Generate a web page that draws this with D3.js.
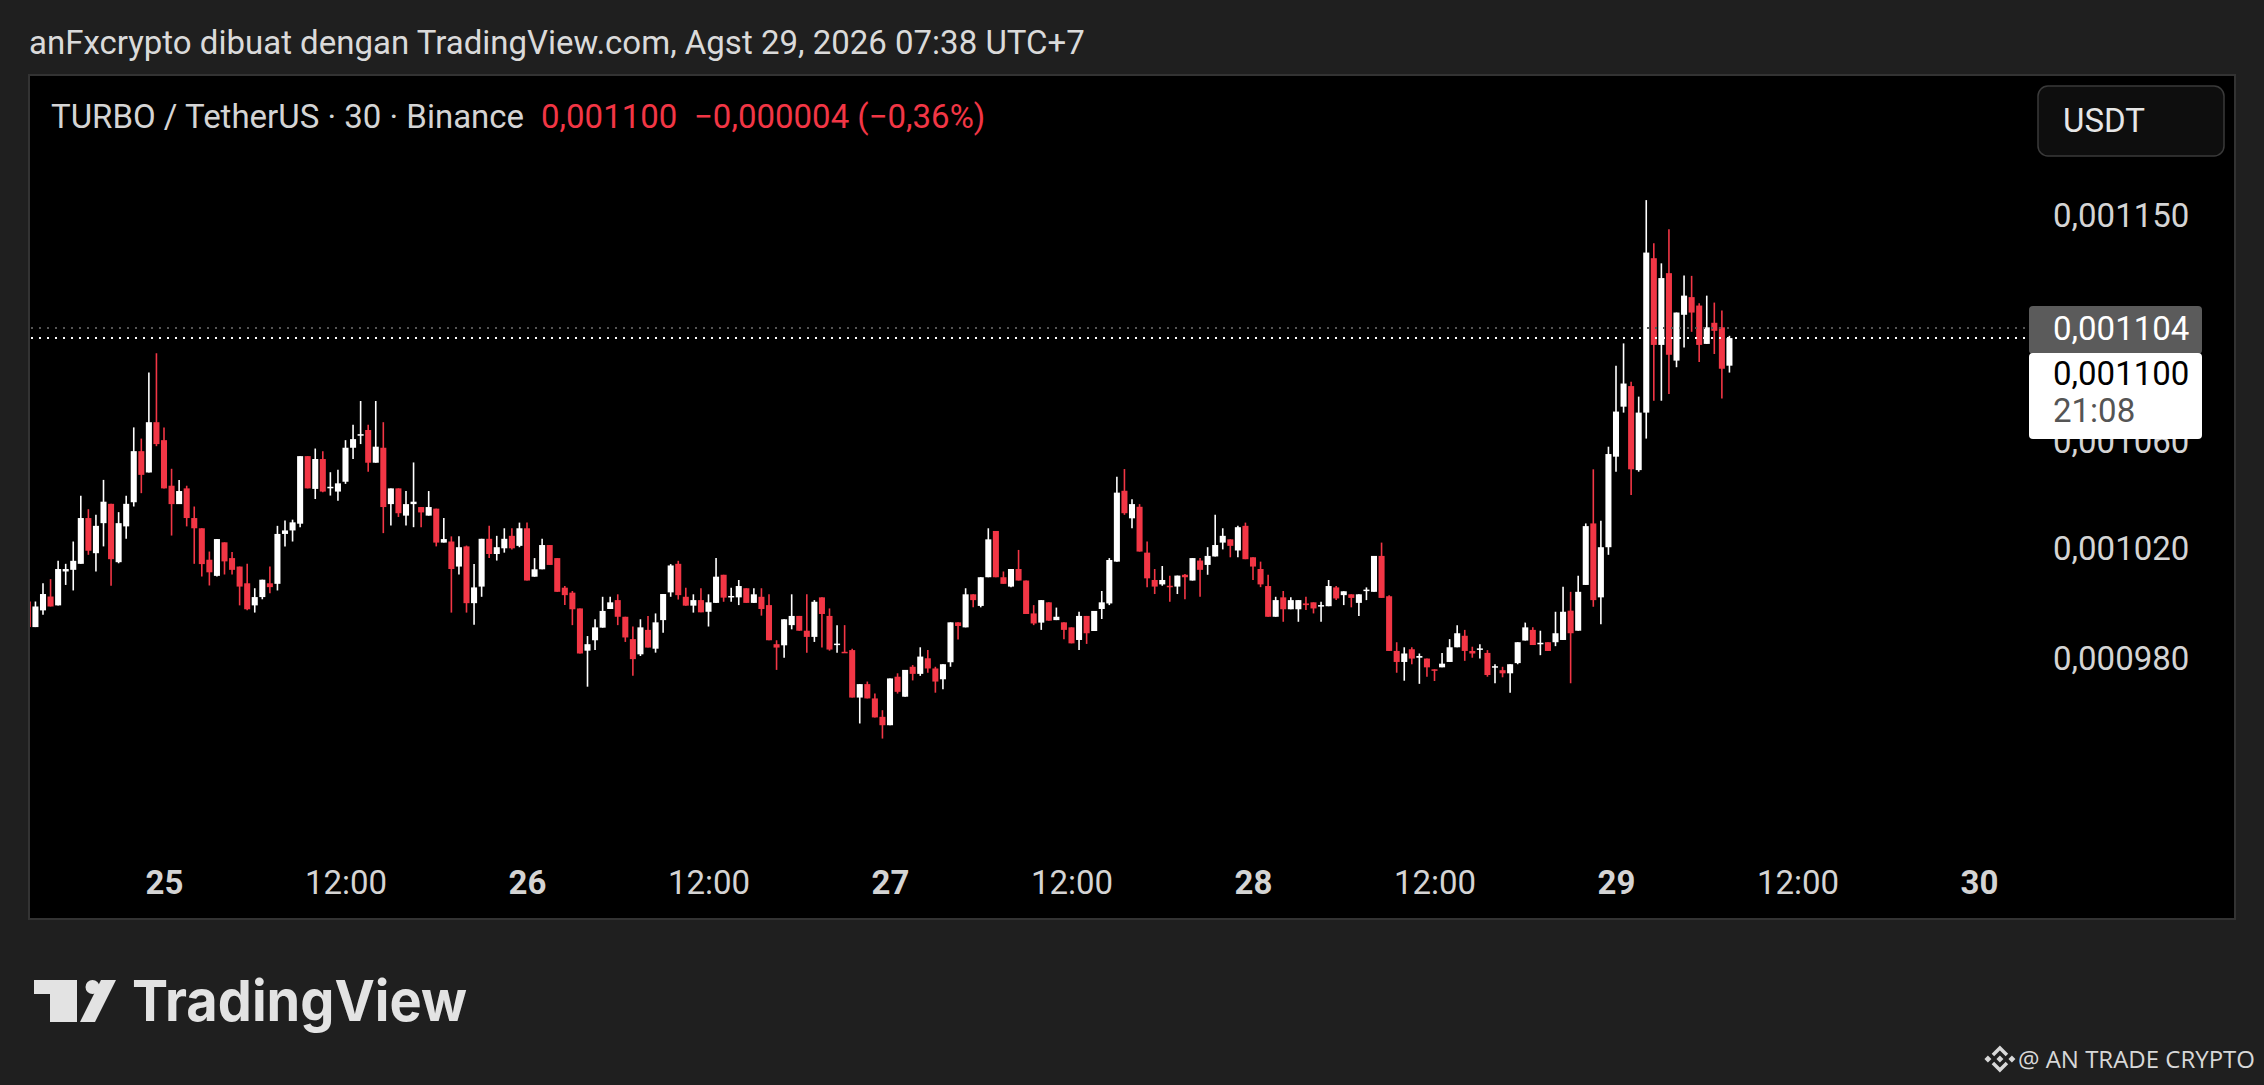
<!DOCTYPE html>
<html><head><meta charset="utf-8">
<script src="https://cdn.jsdelivr.net/npm/d3@7"></script>
<style>
html,body{margin:0;padding:0;background:#1f1f1f;overflow:hidden}
svg{display:block}
</style></head><body>
<svg id="c" width="2264" height="1085"></svg>
<script>
// ---- data (prices in units of 1e-6 USDT) ----
const UNIT = 1e-6;
const startTime = "2026-08-24T15:00:00Z";   // first 30-minute candle
const intervalMinutes = 30;
const opens = [
1000.2,991.0,997.0,1002.0,998.8,1011.1,1011.7,1013.9,1030.8,1017.8,
1028.9,1036.1,1014.5,1027.7,1036.7,1056.0,1047.9,1067.1,1060.2,1042.9,
1036.0,1041.9,1030.8,1027.0,1015.4,1009.5,1021.8,1016.0,1012.9,1006.8,
998.8,1001.8,1006.8,1006.6,1024.9,1026.2,1028.7,1054.1,1041.7,1053.0,
1042.2,1040.7,1044.4,1057.3,1061.9,1064.1,1051.6,1057.3,1036.0,1041.9,
1031.7,1036.0,1034.9,1031.7,1034.3,1021.7,1022.1,1012.9,1020.3,999.6,
1005.6,1023.1,1017.5,1019.6,1024.2,1020.5,1027.0,1009.2,1011.9,1020.8,
1016.0,1005.2,1003.4,997.7,982.6,986.3,990.8,997.5,1000.7,994.7,
986.7,981.3,990.0,983.3,993.5,1003.5,1013.9,1001.9,998.7,1000.7,
996.5,999.7,1009.9,1001.7,1001.7,1005.0,999.7,1001.9,998.9,984.9,
984.5,991.7,995.0,989.7,987.5,1001.7,995.0,984.9,982.2,982.8,
966.1,970.8,965.8,959.4,956.5,973.4,966.4,976.9,974.4,979.9,
976.3,972.5,978.5,992.7,990.9,1002.8,998.6,1009.0,1026.0,1009.0,
1005.6,1012.0,1007.8,995.9,992.6,999.9,993.5,992.7,990.9,986.4,
995.0,989.6,997.5,999.5,1014.7,1041.0,1030.7,1035.0,1018.0,1008.0,
1006.4,1005.9,1005.6,1009.9,1007.8,1015.1,1013.5,1016.6,1021.7,1022.9,
1018.8,1027.9,1016.3,1012.0,1005.8,994.7,1001.7,997.4,997.4,999.5,
999.9,998.4,998.5,1005.3,1002.5,1002.8,999.7,1004.0,1003.7,1016.8,
1002.1,982.5,978.6,983.1,980.1,979.8,976.0,976.7,978.6,983.8,
987.9,982.5,983.1,981.8,976.9,975.7,974.6,978.2,986.2,990.0,
985.0,985.6,985.6,986.4,996.9,989.7,1006.2,1028.8,1001.7,1020.0,
1053.9,1073.1,1081.1,1048.8,1070.8,1132.2,1097.3,1126.1,1091.1,1109.3,
1116.4,1113.0,1097.7,1106.1,1104.3,1089.1];
const highs = [
1000.2,1000.2,1006.8,1008.3,1015.0,1013.9,1022.1,1039.1,1034.1,1032.0,
1045.1,1036.1,1033.0,1039.1,1065.1,1060.8,1086.4,1094.0,1065.1,1049.3,
1045.1,1042.9,1035.1,1027.0,1018.4,1023.0,1021.8,1018.2,1012.9,1013.9,
1005.0,1008.1,1012.9,1027.9,1029.9,1030.2,1054.1,1054.1,1057.0,1056.0,
1048.0,1048.9,1060.2,1066.1,1075.3,1066.1,1075.3,1067.1,1041.9,1041.9,
1040.9,1051.7,1034.9,1040.9,1034.3,1030.8,1024.0,1024.0,1020.6,1013.8,
1023.1,1027.9,1024.2,1027.0,1027.0,1029.1,1029.1,1016.0,1023.1,1020.8,
1016.0,1005.8,1004.0,997.7,987.8,993.8,1001.9,1001.9,1002.8,994.7,
991.2,993.8,995.0,995.9,1002.9,1013.8,1015.0,1005.2,1002.8,1005.0,
1002.8,1016.0,1009.9,1005.2,1008.0,1005.0,1005.0,1005.0,1002.8,986.3,
993.8,1002.8,995.0,1002.8,1000.7,1001.7,997.7,991.7,991.7,983.3,
970.8,971.7,967.5,961.7,972.8,974.6,975.8,977.5,983.8,982.8,
976.9,977.8,992.7,992.7,1005.0,1002.8,1009.0,1027.0,1026.0,1011.1,
1012.0,1019.0,1007.8,998.9,1000.7,999.9,998.0,992.7,990.9,996.5,
995.0,996.8,1004.0,1016.0,1046.3,1049.2,1037.8,1036.0,1022.1,1012.0,
1013.1,1009.5,1009.6,1010.2,1016.0,1016.0,1020.0,1032.0,1027.0,1022.9,
1027.9,1029.1,1016.3,1014.7,1009.9,1001.9,1004.0,1001.7,1000.7,1001.9,
999.9,1000.1,1008.0,1005.8,1003.9,1002.8,1002.8,1005.3,1016.8,1021.7,
1002.5,985.6,983.8,983.8,981.6,979.8,976.0,981.8,986.7,991.7,
990.0,984.0,984.9,982.8,977.8,976.9,977.8,985.6,992.6,990.9,
989.7,985.6,996.5,1005.5,1003.7,1009.5,1028.8,1049.1,1029.8,1057.7,
1089.1,1097.9,1082.8,1077.0,1156.2,1138.3,1130.1,1144.1,1110.2,1125.1,
1125.0,1113.9,1117.0,1114.2,1111.0,1100.9];
const lows = [
991.0,991.0,995.4,998.4,998.8,1006.2,1004.2,1013.9,1017.2,1011.1,
1020.3,1005.9,1014.1,1023.1,1035.1,1040.1,1047.9,1057.9,1041.9,1024.3,
1036.0,1027.7,1013.9,1009.3,1006.0,1009.3,1010.0,1010.0,998.8,997.0,
996.2,1001.0,1003.2,1004.2,1020.3,1022.1,1027.4,1041.9,1037.9,1040.4,
1039.2,1037.3,1043.6,1053.0,1058.7,1048.2,1051.6,1025.2,1028.0,1031.2,
1028.0,1027.4,1027.4,1031.7,1020.3,1021.7,996.2,1010.0,996.2,991.8,
1001.9,1016.0,1015.1,1018.0,1019.2,1020.0,1007.8,1009.2,1011.9,1013.5,
1003.7,998.9,991.7,981.6,969.9,982.8,990.8,997.5,991.7,985.7,
973.7,980.7,983.7,981.9,989.0,1001.9,1000.9,998.7,996.2,996.3,
991.2,999.7,1000.1,1000.1,998.9,999.7,999.7,995.1,986.3,975.8,
980.1,990.2,989.7,981.9,985.7,983.7,982.6,981.9,981.9,966.1,
957.1,965.8,959.2,951.9,956.5,967.5,966.4,972.1,973.7,974.8,
967.8,969.0,976.9,986.6,990.9,998.1,998.1,1009.0,1009.0,1006.6,
1005.4,1007.8,995.7,991.7,990.0,993.3,993.5,986.7,985.2,982.8,
985.0,989.6,993.9,998.9,1014.7,1032.0,1027.0,1018.4,1005.4,1002.9,
1005.9,1000.1,1002.9,1001.0,1007.8,1001.9,1009.9,1016.6,1019.2,1016.3,
1016.3,1015.6,1008.0,1005.4,994.7,994.7,992.9,997.4,992.9,997.1,
995.9,992.9,998.5,1000.7,998.9,998.1,995.0,1000.7,1003.7,1001.5,
982.5,974.8,972.0,977.8,970.9,973.4,971.9,976.7,978.6,983.8,
979.0,980.1,979.8,973.4,971.1,973.2,967.8,977.8,986.2,984.6,
981.0,982.5,984.2,986.4,971.1,989.7,1006.2,998.3,992.0,1017.2,
1048.2,1070.8,1039.4,1048.2,1060.8,1075.4,1075.4,1078.0,1088.5,1096.3,
1102.5,1090.5,1097.7,1093.7,1076.3,1086.4];
const closes = [
991.0,998.4,1002.9,998.4,1012.0,1012.0,1015.0,1030.8,1018.7,1027.9,
1036.9,1015.6,1028.9,1036.1,1056.0,1047.0,1067.1,1058.7,1041.9,1036.0,
1040.9,1030.8,1027.0,1013.8,1010.8,1023.0,1014.8,1011.7,1005.6,997.4,
1001.8,1008.1,1005.4,1024.9,1026.2,1029.2,1054.1,1041.9,1053.0,1040.7,
1042.5,1043.8,1057.3,1060.6,1062.5,1051.6,1057.7,1034.9,1041.9,1032.6,
1036.0,1036.9,1032.9,1034.9,1021.7,1023.0,1012.0,1020.0,999.6,1005.3,
1023.1,1017.5,1020.0,1023.1,1019.6,1027.0,1007.8,1011.9,1020.8,1013.5,
1003.7,1002.5,997.4,981.6,984.9,990.9,996.8,999.9,994.7,987.3,
979.6,990.9,983.7,992.7,1002.9,1013.3,1002.5,998.7,1000.7,996.3,
999.9,1009.2,1001.6,1002.2,1005.8,999.7,1002.8,997.5,986.3,983.7,
993.8,995.0,989.7,987.5,1000.1,995.7,983.0,985.1,981.9,966.1,
970.8,965.8,959.2,956.5,972.8,968.1,975.8,974.4,980.5,976.3,
971.7,977.8,992.7,991.4,1002.8,1000.7,1009.0,1022.9,1009.0,1006.6,
1012.0,1007.8,995.7,992.3,1000.7,993.3,994.7,990.0,985.2,995.0,
988.8,996.8,999.9,1015.3,1040.3,1032.6,1036.0,1018.4,1008.6,1005.6,
1008.0,1005.4,1009.6,1009.0,1016.0,1011.7,1016.8,1020.8,1024.2,1020.5,
1027.4,1015.6,1012.9,1006.4,994.7,1000.7,997.4,1000.7,1000.7,998.9,
997.7,998.9,1005.8,1001.3,1003.9,1001.5,1002.8,1004.5,1016.8,1001.5,
982.5,978.6,981.6,979.8,980.7,976.7,975.5,978.0,983.8,988.8,
982.5,981.6,983.4,974.0,977.1,974.6,977.8,985.6,990.9,984.6,
985.4,982.5,988.8,996.5,988.8,1003.7,1027.8,1000.7,1020.0,1054.9,
1071.2,1082.1,1049.1,1070.8,1134.5,1097.3,1124.1,1093.4,1110.2,1117.0,
1110.2,1097.3,1104.3,1102.9,1087.9,1100.0];

const priceTicks = [1150, 1060, 1020, 980];          // 1100 tick is hidden under the price labels
const priceTickLabels = ["0,001150","0,001060","0,001020","0,000980"];
const timeTicks = ["2026-08-25T00:00Z","2026-08-25T12:00Z","2026-08-26T00:00Z","2026-08-26T12:00Z",
  "2026-08-27T00:00Z","2026-08-27T12:00Z","2026-08-28T00:00Z","2026-08-28T12:00Z",
  "2026-08-29T00:00Z","2026-08-29T12:00Z","2026-08-30T00:00Z"];
const timeTickLabels = ["25","12:00","26","12:00","27","12:00","28","12:00","29","12:00","30"];
const prevClose = 1104;     // grey price line
const lastPrice = 1100;     // current price line
const prevCloseText = "0,001104";
const countdown = "21:08";
const headerText = "anFxcrypto dibuat dengan TradingView.com, Agst 29, 2026 07:38 UTC+7";
const symbolText = "TURBO / TetherUS · 30 · Binance";
const lastText = "0,001100";
const changeText = "−0,000004 (−0,36%)";

// ---- layout ----
const svg = d3.select("#c");
const plot = {x0: 29, x1: 2235, y0: 75, y1: 919};
const UP = "#ffffff", DOWN = "#f23645", TXT = "#d4d4d4";
const FONT = "Roboto, 'Noto Sans', sans-serif";
const FS = 33;

const t0 = new Date(startTime).getTime();
const candles = opens.map((o,i)=>({t:new Date(t0 + i*intervalMinutes*60000), o:o*UNIT, h:highs[i]*UNIT, l:lows[i]*UNIT, c:closes[i]*UNIT}));

const x = d3.scaleUtc().domain([new Date("2026-08-25T00:00Z"), new Date("2026-08-30T00:00Z")]).range([164, 1979]);
const y = d3.scaleLog().domain([980*UNIT, 1150*UNIT]).range([658, 215]);

// header
svg.append("text").attr("x", 29).attr("y", 54).attr("fill", "#dadada")
  .attr("font-family", FONT).attr("font-size", FS).text(headerText);

// plot frame
svg.append("rect").attr("x", plot.x0).attr("y", plot.y0).attr("width", plot.x1-plot.x0).attr("height", plot.y1-plot.y0)
  .attr("fill", "#000").attr("stroke", "#333").attr("stroke-width", 2);

svg.append("defs").append("clipPath").attr("id","clip").append("rect")
  .attr("x", plot.x0+1).attr("y", plot.y0+1).attr("width", 2000).attr("height", plot.y1-plot.y0-2);

const gC = svg.append("g").attr("clip-path","url(#clip)");
const step = x(new Date(t0 + 30*60000)) - x(new Date(t0));
const bw = step*0.8;
const cg = gC.selectAll("g.cd").data(candles).join("g").attr("class","cd");
cg.append("line")
  .attr("x1", d=>x(d.t)).attr("x2", d=>x(d.t))
  .attr("y1", d=>y(d.h)).attr("y2", d=>y(d.l))
  .attr("stroke", d=>d.c>=d.o?UP:DOWN).attr("stroke-width", 1.6);
cg.append("rect")
  .attr("x", d=>x(d.t)-bw/2).attr("width", bw)
  .attr("y", d=>y(Math.max(d.o,d.c)))
  .attr("height", d=>Math.max(1.5, Math.abs(y(d.o)-y(d.c))))
  .attr("fill", d=>d.c>=d.o?UP:DOWN);

// price lines
svg.append("line").attr("x1", plot.x0+2).attr("x2", 2029).attr("y1", y(prevClose*UNIT)).attr("y2", y(prevClose*UNIT))
  .attr("stroke", "#555").attr("stroke-width", 2).attr("stroke-dasharray", "2 6");
svg.append("line").attr("x1", plot.x0+2).attr("x2", 2029).attr("y1", y(lastPrice*UNIT)).attr("y2", y(lastPrice*UNIT))
  .attr("stroke", "#ffffff").attr("stroke-width", 2).attr("stroke-dasharray", "2 6");

// legend
const lg = svg.append("text").attr("x", 51).attr("y", 128).attr("font-family", FONT).attr("font-size", FS);
lg.append("tspan").attr("fill", TXT).text(symbolText);
lg.append("tspan").attr("x", 541).attr("fill", DOWN).text(lastText);
lg.append("tspan").attr("x", 694).attr("fill", DOWN).text(changeText);

// USDT button
svg.append("rect").attr("x", 2038).attr("y", 86).attr("width", 186).attr("height", 70).attr("rx", 10)
  .attr("fill", "#0e0e0e").attr("stroke", "#3a3a3a").attr("stroke-width", 1.5);
svg.append("text").attr("x", 2063).attr("y", 132).attr("font-family", FONT).attr("font-size", FS)
  .attr("fill", "#e6e6e6").text("USDT");

// price axis
const yAxis = svg.append("g").attr("transform", "translate(2053,0)")
  .call(d3.axisRight(y).tickValues(priceTicks.map(v=>v*UNIT)).tickSize(0).tickPadding(0)
    .tickFormat((d,i)=>priceTickLabels[i]));
yAxis.select(".domain").remove();
yAxis.selectAll("text").attr("font-family", FONT).attr("font-size", FS).attr("fill", TXT).attr("dy", "0.36em");

// time axis
const xAxis = svg.append("g").attr("transform", "translate(0,882)")
  .call(d3.axisBottom(x).tickValues(timeTicks.map(s=>new Date(s))).tickSize(0).tickPadding(0)
    .tickFormat((d,i)=>timeTickLabels[i]));
xAxis.select(".domain").remove();
xAxis.selectAll("text").attr("font-family", FONT).attr("font-size", FS).attr("fill", TXT).attr("dy", "0.36em")
  .attr("font-weight", (d,i)=>timeTickLabels[i].includes(":")?400:700);

// price labels
const yp = y(prevClose*UNIT);
svg.append("rect").attr("x", 2029).attr("y", yp-22).attr("width", 173).attr("height", 48).attr("rx", 4).attr("fill", "#5b5b5b");
svg.append("text").attr("x", 2053).attr("y", yp+12).attr("font-family", FONT).attr("font-size", FS).attr("fill", "#fff").text(prevCloseText);
svg.append("rect").attr("x", 2029).attr("y", yp+25).attr("width", 173).attr("height", 86).attr("rx", 4).attr("fill", "#fff");
svg.append("text").attr("x", 2053).attr("y", yp+57).attr("font-family", FONT).attr("font-size", FS).attr("fill", "#000").text(lastText);
svg.append("text").attr("x", 2053).attr("y", yp+94).attr("font-family", FONT).attr("font-size", FS).attr("fill", "#555").text(countdown);

// TradingView logo
const logo = svg.append("g").attr("fill", "#e3e3e3");
logo.append("path").attr("d", "M34,980 H77 V1022 H50 V994 H34 Z");
logo.append("circle").attr("cx", 92.5).attr("cy", 987).attr("r", 7);
logo.append("path").attr("d", "M101,980 H116 L95,1022 H80 Z");
logo.append("text").attr("x", 132).attr("y", 1021).attr("font-family", "Inter, 'Open Sans', sans-serif")
  .attr("font-weight", 700).attr("font-size", 57).attr("textLength", 335).attr("lengthAdjust","spacingAndGlyphs").text("TradingView");

// watermark
const wmText = svg.append("text").attr("x", 2255).attr("y", 1068).attr("text-anchor", "end")
  .attr("font-family", "'Open Sans', 'Noto Sans', sans-serif").attr("font-size", 24).attr("fill", "#d8d8d8")
  .text("@ AN TRADE CRYPTO");
const wmLeft = 2255 - wmText.node().getComputedTextLength();
const wm = svg.append("g").attr("fill", "#d8d8d8").attr("stroke", "#d8d8d8");
const cx0 = wmLeft - 18, cy0 = 1059;
wm.append("path").attr("fill","none").attr("stroke-width",3.5).attr("d", `M${cx0-7},${cy0-4} L${cx0},${cy0-11} L${cx0+7},${cy0-4}`);
wm.append("path").attr("fill","none").attr("stroke-width",3.5).attr("d", `M${cx0-7},${cy0+4} L${cx0},${cy0+11} L${cx0+7},${cy0+4}`);
[[-12,0],[12,0],[0,0]].forEach(([dx,dy])=>{
  wm.append("path").attr("stroke","none").attr("d", `M${cx0+dx},${cy0+dy-3.5} L${cx0+dx+3.5},${cy0+dy} L${cx0+dx},${cy0+dy+3.5} L${cx0+dx-3.5},${cy0+dy} Z`);
});
</script>
</body></html>
